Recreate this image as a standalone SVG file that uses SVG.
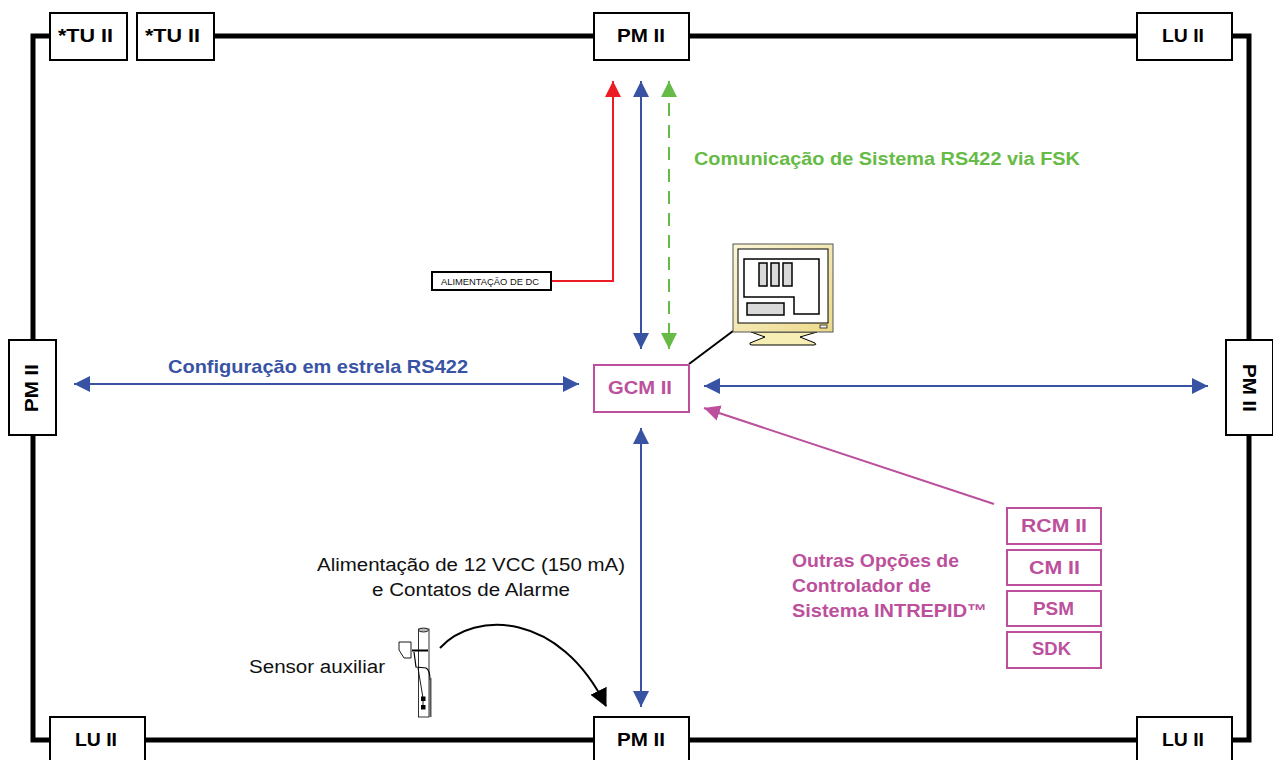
<svg xmlns="http://www.w3.org/2000/svg" width="1273" height="760" viewBox="0 0 1273 760">
<style>
text{font-family:"Liberation Sans",Arial,sans-serif}
.b{fill:#fff;stroke:#000;stroke-width:2}
.t{font-size:18.500px;font-weight:700;text-anchor:middle;fill:#000}
.m{fill:#fff;stroke:#bc509c;stroke-width:2}
.mt{font-size:18.500px;font-weight:700;text-anchor:middle;fill:#bc509c}
.n{font-size:18px;fill:#111}
.c{fill:none;stroke-width:2}
.blue{stroke:#3953a4}
</style>
<defs>
<linearGradient id="bezel" x1="0" y1="0" x2="1" y2="1"><stop offset="0" stop-color="#fbf6d8"/><stop offset="1" stop-color="#ecd98a"/></linearGradient>
<marker id="ab" markerUnits="userSpaceOnUse" markerWidth="18" markerHeight="18" refX="16" refY="8" orient="auto-start-reverse"><path d="M0 0L16 8L0 16Z" fill="#3953a4"/></marker>
<marker id="ar" markerUnits="userSpaceOnUse" markerWidth="18" markerHeight="18" refX="16" refY="8" orient="auto"><path d="M0 0L16 8L0 16Z" fill="#ed1c24"/></marker>
<marker id="ag" markerUnits="userSpaceOnUse" markerWidth="18" markerHeight="18" refX="16" refY="8" orient="auto-start-reverse"><path d="M0 0L16 8L0 16Z" fill="#66bb46"/></marker>
<marker id="am" markerUnits="userSpaceOnUse" markerWidth="18" markerHeight="18" refX="16" refY="8" orient="auto"><path d="M0 0L16 8L0 16Z" fill="#bc509c"/></marker>
<marker id="ak" markerUnits="userSpaceOnUse" markerWidth="20" markerHeight="20" refX="17" refY="9" orient="auto"><path d="M0 0L18 9L0 18Z" fill="#000"/></marker>
</defs>
<g id="connectors">
<path d="M50 36H33V740H50M215 36H594M689 36H1137M1232 36H1249V740H1232M145 740H594M689 740H1137" fill="none" stroke="#000" stroke-width="5"/>
<path class="c" d="M552 281H613V81" stroke="#ed1c24" marker-end="url(#ar)"/>
<path class="c blue" d="M641 81V349" marker-start="url(#ab)" marker-end="url(#ab)"/>
<path class="c" d="M669 81V349" stroke="#66bb46" stroke-dasharray="13 9" marker-start="url(#ag)" marker-end="url(#ag)"/>
<path class="c blue" d="M74 384H579" marker-start="url(#ab)" marker-end="url(#ab)"/>
<path class="c blue" d="M704 386H1208" marker-start="url(#ab)" marker-end="url(#ab)"/>
<path class="c blue" d="M641 428V707" marker-start="url(#ab)" marker-end="url(#ab)"/>
<path class="c" d="M994 504L704 408" stroke="#bc509c" marker-end="url(#am)"/>
<path class="c" d="M689 364L733 331" stroke="#000"/>
<path class="c" d="M440 648C475 610 560 612 606 706" stroke="#000" marker-end="url(#ak)"/>
</g>
<g id="tu1"><rect class="b" x="50" y="13" width="77" height="47"/><text class="t" x="85.500" y="42" textLength="55" lengthAdjust="spacingAndGlyphs">*TU II</text></g>
<g id="tu2"><rect class="b" x="137" y="13" width="77" height="47"/><text class="t" x="172.500" y="42" textLength="55" lengthAdjust="spacingAndGlyphs">*TU II</text></g>
<g id="pm-top"><rect class="b" x="594" y="13" width="95" height="47"/><text class="t" x="641" y="42" textLength="48" lengthAdjust="spacingAndGlyphs">PM II</text></g>
<g id="lu-tr"><rect class="b" x="1137" y="13" width="95" height="47"/><text class="t" x="1183" y="42" textLength="42" lengthAdjust="spacingAndGlyphs">LU II</text></g>
<g id="pm-left"><rect class="b" x="9" y="340" width="47" height="95"/><text class="t" transform="translate(38 388) rotate(-90)" textLength="48" lengthAdjust="spacingAndGlyphs">PM II</text></g>
<g id="pm-right"><rect class="b" x="1226" y="340" width="47" height="95"/><text class="t" transform="translate(1243 388) rotate(90)" textLength="48" lengthAdjust="spacingAndGlyphs">PM II</text></g>
<g id="lu-bl"><rect class="b" x="50" y="717" width="95" height="47"/><text class="t" x="96" y="746" textLength="42" lengthAdjust="spacingAndGlyphs">LU II</text></g>
<g id="pm-bottom"><rect class="b" x="594" y="717" width="95" height="47"/><text class="t" x="641" y="746" textLength="48" lengthAdjust="spacingAndGlyphs">PM II</text></g>
<g id="lu-br"><rect class="b" x="1137" y="717" width="95" height="47"/><text class="t" x="1183" y="746" textLength="42" lengthAdjust="spacingAndGlyphs">LU II</text></g>
<g id="gcm"><rect class="m" x="594" y="365" width="95" height="47"/><text class="mt" x="640" y="394" textLength="64" lengthAdjust="spacingAndGlyphs">GCM II</text></g>
<g id="dc"><rect x="432" y="272" width="119" height="18" fill="#fff" stroke="#000" stroke-width="2"/><text x="441" y="285" font-size="9.500" fill="#111" textLength="98" lengthAdjust="spacingAndGlyphs">ALIMENTAÇÃO DE DC</text></g>
<g id="rcm"><rect class="m" x="1007" y="508" width="94" height="36"/><text class="mt" x="1054" y="532" textLength="66" lengthAdjust="spacingAndGlyphs">RCM II</text></g>
<g id="cm"><rect class="m" x="1007" y="550" width="94" height="35"/><text class="mt" x="1054.500" y="574" textLength="51" lengthAdjust="spacingAndGlyphs">CM II</text></g>
<g id="psm"><rect class="m" x="1007" y="591" width="94" height="35"/><text class="mt" x="1053.500" y="615" textLength="41" lengthAdjust="spacingAndGlyphs">PSM</text></g>
<g id="sdk"><rect class="m" x="1007" y="632" width="94" height="36"/><text class="mt" x="1051.500" y="655" textLength="39" lengthAdjust="spacingAndGlyphs">SDK</text></g>
<text x="694" y="165" font-size="18.500" font-weight="700" fill="#66bb46" textLength="386" lengthAdjust="spacingAndGlyphs">Comunicação de Sistema RS422 via FSK</text>
<text x="168" y="373" font-size="18.500" font-weight="700" fill="#3953a4" textLength="300" lengthAdjust="spacingAndGlyphs">Configuração em estrela RS422</text>
<g font-size="18.500" font-weight="700" fill="#bc509c"><text x="792" y="567" textLength="167" lengthAdjust="spacingAndGlyphs">Outras Opções de</text><text x="792" y="592" textLength="139" lengthAdjust="spacingAndGlyphs">Controlador de</text><text x="792" y="617" textLength="195" lengthAdjust="spacingAndGlyphs">Sistema INTREPID™</text></g>
<text class="n" x="471" y="571" text-anchor="middle" textLength="308" lengthAdjust="spacingAndGlyphs">Alimentação de 12 VCC (150 mA)</text>
<text class="n" x="471" y="596" text-anchor="middle" textLength="198" lengthAdjust="spacingAndGlyphs">e Contatos de Alarme</text>
<text class="n" x="249" y="673" textLength="136" lengthAdjust="spacingAndGlyphs">Sensor auxiliar</text>
<g id="monitor">
<path d="M751 332L765 337L750 343Q749 345 752 345H814Q817 345 815 343L800 337L817 332Z" fill="#f6eeb4" stroke="#000"/>
<rect x="733" y="244" width="100" height="88" fill="url(#bezel)" stroke="#555"/>
<rect x="738" y="249" width="90" height="74" fill="#fff" stroke="#000"/>
<path d="M744 259H819V314H794V297H744Z" fill="#fff" stroke="#000" stroke-width="1.500"/>
<path d="M759 263h8v23h-8zM771 263h8v23h-8zM783 263h9v23h-9zM747 303h37v12h-37z" fill="#d9d9d9" stroke="#000" stroke-width="1.500"/>
<rect x="820" y="325" width="7" height="3" fill="#eee" stroke="#000" stroke-width=".7"/>
</g>
<g id="sensor" fill="none" stroke="#000">
<rect x="418.500" y="629" width="10.500" height="88" fill="#fff" stroke-width=".8"/>
<ellipse cx="423.500" cy="630" rx="5" ry="2" fill="#bbb" stroke-width=".8"/>
<path d="M399 642H411V658H404L399 650Z" fill="#fff" stroke-width=".9"/>
<path d="M412 650.500H428" stroke-width="2"/>
<path d="M414 652L416 667L426 668Q430 670 430 680" stroke-width="1.200"/>
<path d="M430.500 678V717" stroke="#555" stroke-width="2"/>
<path d="M418 668L423 698V708" stroke-width=".9"/>
<rect x="421.500" y="697" width="3.500" height="3.500" fill="#000"/><rect x="421.500" y="705.500" width="3.500" height="3.500" fill="#000"/>
</g>
</svg>
